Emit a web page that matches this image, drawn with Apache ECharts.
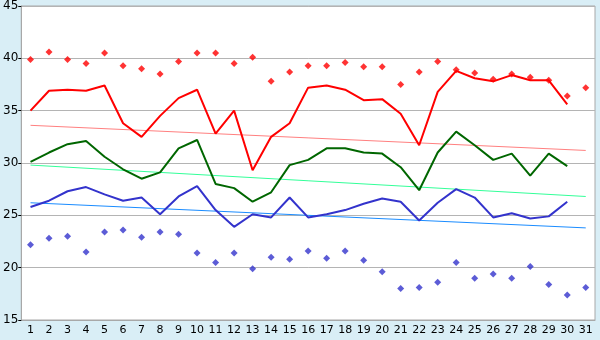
<!DOCTYPE html>
<html>
<head>
<meta charset="utf-8">
<script src="https://cdn.jsdelivr.net/npm/echarts@6/dist/echarts.min.js"></script>
<style>
html,body{margin:0;padding:0;background:#d9eef6;}
#c{width:600px;height:340px;}
</style>
</head>
<body>
<div id="c"></div>
<script>
const days = Array.from({length:31},(_,i)=>String(i+1));
const avgMax = [35.0,36.9,37.0,36.9,37.4,33.8,32.5,34.5,36.2,37.0,32.8,35.0,29.3,32.5,33.8,37.2,37.4,37.0,36.0,36.1,34.7,31.7,36.8,38.8,38.1,37.8,38.4,37.9,37.9,35.6,null];
const avgMean = [30.1,31.0,31.8,32.1,30.6,29.4,28.5,29.1,31.4,32.2,28.0,27.6,26.3,27.2,29.8,30.3,31.4,31.4,31.0,30.9,29.6,27.4,31.0,33.0,31.7,30.3,30.9,28.8,30.9,29.7,null];
const avgMin = [25.8,26.4,27.3,27.7,27.0,26.4,26.7,25.1,26.8,27.8,25.5,23.9,25.1,24.8,26.7,24.8,25.1,25.5,26.1,26.6,26.3,24.5,26.2,27.5,26.7,24.8,25.2,24.7,24.9,26.3,null];
const recHigh = [39.9,40.6,39.9,39.5,40.5,39.3,39.0,38.5,39.7,40.5,40.5,39.5,40.1,37.8,38.7,39.3,39.3,39.6,39.2,39.2,37.5,38.7,39.7,38.9,38.6,38.0,38.5,38.2,37.9,36.4,37.2];
const recLow = [22.2,22.8,23.0,21.5,23.4,23.6,22.9,23.4,23.2,21.4,20.5,21.4,19.9,21.0,20.8,21.6,20.9,21.6,20.7,19.6,18.0,18.1,18.6,20.5,19.0,19.4,19.0,20.1,18.4,17.4,18.1];
// trend line end points (day 1 and day 31)
const trendMax = [33.6, 31.2];
const trendMean = [29.8, 26.8];
const trendMin = [26.2, 23.8];
const yTicks = [15,20,25,30,35,40,45];

function ends(pair){
  const a = new Array(31).fill(null);
  a[0]=pair[0]; a[30]=pair[1];
  return a;
}

const chart = echarts.init(document.getElementById('c'));
const font = 'DejaVu Sans';
chart.setOption({
  backgroundColor:'#d9eef6',
  animation:false,
  grid:{left:20,right:5,top:5,bottom:20,show:true,backgroundColor:'#ffffff',borderColor:'#a8a8a8',borderWidth:1},
  xAxis:{
    type:'category',data:days,boundaryGap:true,
    axisLine:{lineStyle:{color:'#a8a8a8',width:1}},
    axisTick:{alignWithLabel:true,length:4,lineStyle:{color:'#000'}},
    axisLabel:{color:'#000',fontFamily:font,fontSize:11,margin:5,interval:0},
    splitLine:{show:false}
  },
  yAxis:{
    type:'value',min:yTicks[0],max:yTicks[yTicks.length-1],interval:5,
    axisLine:{show:true,lineStyle:{color:'#a8a8a8',width:1}},
    axisTick:{show:true,length:3,lineStyle:{color:'#000'}},
    axisLabel:{color:'#000',fontFamily:font,fontSize:12,margin:3},
    splitLine:{lineStyle:{color:'#b4b4b4',width:1}}
  },
  series:[
    {type:'line',data:ends(trendMax),connectNulls:true,showSymbol:false,symbol:'none',lineStyle:{color:'#ff8080',width:1},z:1},
    {type:'line',data:ends(trendMean),connectNulls:true,showSymbol:false,symbol:'none',lineStyle:{color:'#33ff99',width:1},z:1},
    {type:'line',data:ends(trendMin),connectNulls:true,showSymbol:false,symbol:'none',lineStyle:{color:'#1a8cff',width:1},z:1},
    {type:'line',data:avgMax,symbol:'none',lineStyle:{color:'#ff0000',width:2},z:3},
    {type:'line',data:avgMean,symbol:'none',lineStyle:{color:'#006600',width:2},z:3},
    {type:'line',data:avgMin,symbol:'none',lineStyle:{color:'#3333cc',width:2},z:3},
    {type:'scatter',data:recHigh,symbol:'diamond',symbolSize:7,itemStyle:{color:'#ff0000'},z:4},
    {type:'scatter',data:recLow,symbol:'diamond',symbolSize:7,itemStyle:{color:'#3333cc'},z:4}
  ]
});
</script>
</body>
</html>
